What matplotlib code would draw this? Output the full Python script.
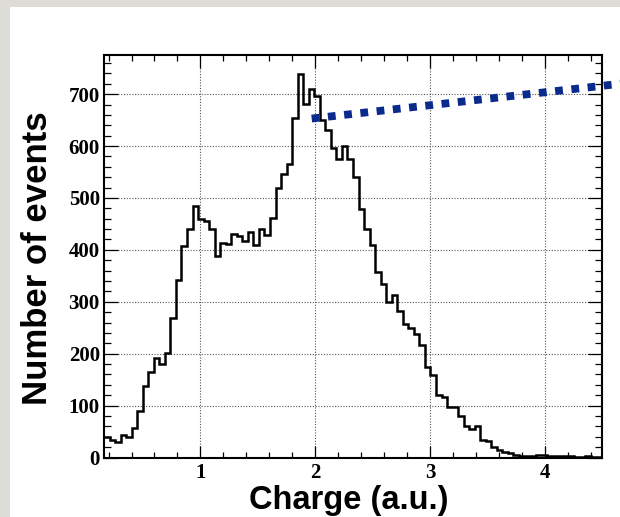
import numpy as np
import matplotlib
matplotlib.use("Agg")
import matplotlib.pyplot as plt
from matplotlib.patches import Rectangle
from matplotlib.ticker import MultipleLocator

# === Data ===
x_min, x_max = 0.16, 4.5
counts = [39, 34, 30, 43, 40, 56, 89, 137, 165, 192,
          181, 202, 269, 341, 407, 441, 484, 460, 455, 441,
          389, 414, 412, 430, 427, 417, 434, 410, 441, 429,
          462, 520, 546, 566, 655, 739, 681, 709, 697, 650,
          630, 596, 575, 600, 575, 540, 478, 441, 409, 358,
          334, 299, 313, 282, 257, 249, 237, 216, 175, 159,
          120, 117, 98, 97, 79, 60, 54, 61, 33, 31,
          21, 14, 11, 8, 4, 3, 3, 3, 4, 4,
          3, 2, 3, 2, 2, 1, 1, 2, 1, 1]
edges = np.linspace(x_min, x_max, len(counts) + 1)
y_max = 776
x_ticks = [1, 2, 3, 4]
y_ticks = [0, 100, 200, 300, 400, 500, 600, 700]

# blue pointer running off to the right edge
pointer_x = [1.97, 4.66]
pointer_y = [653, 720]

# === Figure ===
fig = plt.figure(figsize=(6.2, 5.17), dpi=100, facecolor='#dddcd7')
fig.patches.append(Rectangle((10 / 620, 0), 1, 1 - 7 / 517, transform=fig.transFigure,
                             facecolor='white', edgecolor='none', zorder=-10))

ax = fig.add_axes([104 / 620, 1 - 457.5 / 517, 498 / 620, 402.8 / 517])
ax.set_facecolor('white')

ax.stairs(counts, edges, baseline=None, color='black', linewidth=1.8, zorder=3)

ax.set_xlim(x_min, x_max)
ax.set_ylim(0, y_max)
ax.set_xticks(x_ticks)
ax.set_yticks(y_ticks)
ax.xaxis.set_minor_locator(MultipleLocator(0.2))
ax.yaxis.set_minor_locator(MultipleLocator(20))

ax.grid(True, which='major', color='#555555', linestyle=(0, (1, 1.5)), linewidth=0.8)
ax.set_axisbelow(True)

for s in ax.spines.values():
    s.set_linewidth(1.5)
    s.set_zorder(5)

ax.tick_params(which='both', direction='in', top=True, right=True, width=0.9, colors='black')
ax.tick_params(axis='y', which='major', length=10, pad=3)
ax.tick_params(axis='y', which='minor', length=5)
ax.tick_params(axis='x', which='major', length=9, pad=4)
ax.tick_params(axis='x', which='minor', length=4.5)

tick_font = dict(family='Liberation Serif', weight='bold', size=15)
ax.set_xticklabels([str(t) for t in x_ticks], fontdict=tick_font)
ax.set_yticklabels([str(t) for t in y_ticks], fontdict=tick_font)

ax.set_xlabel('Charge (a.u.)', family='Liberation Sans', weight='bold', size=23.5)
ax.xaxis.set_label_coords(0.492, -0.068)
ax.set_ylabel('Number of events', family='Liberation Sans', weight='bold', size=25)
ax.yaxis.set_label_coords(-0.100, 0.495)

ax.plot(pointer_x, pointer_y, color='#0a2a8c', linewidth=5.6,
        linestyle=(0, (1, 1.1)), solid_capstyle='butt', dash_capstyle='butt',
        clip_on=False, zorder=6)

fig.savefig('out.png', dpi=100, facecolor=fig.get_facecolor())
